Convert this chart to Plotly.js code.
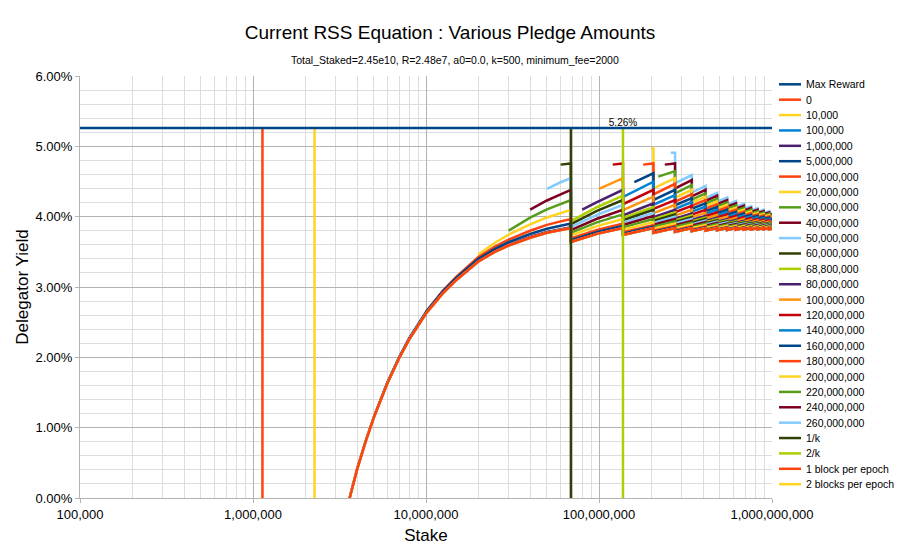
<!DOCTYPE html>
<html>
<head>
<meta charset="utf-8">
<script src="https://cdn.plot.ly/plotly-3.0.1.min.js"></script>
<style>
html,body{margin:0;padding:0;background:#fff;}
#chart{width:900px;height:556px;}
</style>
</head>
<body>
<div id="chart"></div>
<script>
// ---------- axis / reference values ----------
const TICK_VALS = [1e5, 1e6, 1e7, 1e8, 1e9];
const TICK_TEXT = ['100,000', '1,000,000', '10,000,000', '100,000,000', '1,000,000,000'];
const MAX_REWARD = 5.26;
const MAX_LABEL = '5.26%';
const ONE_K = 6.88e7;
const TWO_K = 1.376e8;
const ONE_BLOCK = 1.134e6;
const TWO_BLOCKS = 2.268e6;

// stake sample points: first (unsaturated) segment, then the saw-tooth segments
const T1X = [3.62e6, 4e6, 4.5e6, 5e6, 6e6, 7e6, 8e6, 1e7, 1.25e7, 1.5e7, 2e7, 2.5e7, 3e7, 4e7, 5e7, 6e7, 6.88e7];
const TX = [6.88e7, 9.73e7, 1.376e8, 1.376e8, 1.685e8, 2.064e8, 2.064e8, 2.383e8, 2.752e8, 2.752e8,
  3.44e8, 3.44e8, 4.128e8, 4.128e8, 4.816e8, 4.816e8, 5.504e8, 5.504e8, 6.192e8, 6.192e8,
  6.88e8, 6.88e8, 7.568e8, 7.568e8, 8.256e8, 8.256e8, 8.944e8, 8.944e8, 9.632e8, 9.632e8, 1e9];

// pledge series
const PLEDGES = [0, 1e4, 1e5, 1e6, 5e6, 1e7, 2e7, 3e7, 4e7, 5e7, 6e7, 6.88e7, 8e7, 1e8, 1.2e8, 1.4e8, 1.6e8, 1.8e8, 2e8, 2.2e8, 2.4e8, 2.6e8];
const PLEDGE_LABELS = ['0', '10,000', '100,000', '1,000,000', '5,000,000', '10,000,000', '20,000,000', '30,000,000',
  '40,000,000', '50,000,000', '60,000,000', '68,800,000', '80,000,000', '100,000,000', '120,000,000', '140,000,000',
  '160,000,000', '180,000,000', '200,000,000', '220,000,000', '240,000,000', '260,000,000'];
const PLEDGE_COLORS = ['#ff420e', '#ffd320', '#0084d1', '#4b1f6f', '#004586', '#ff420e', '#ffd320', '#579d1c',
  '#7e0021', '#83caff', '#314004', '#aecf00', '#4b1f6f', '#ff950e', '#c5000b', '#0084d1',
  '#004586', '#ff420e', '#ffd320', '#579d1c', '#7e0021', '#83caff'];

// delegator yield (%)
const Y_P0 = [0, 0.41, 0.82, 1.148, 1.64, 1.991, 2.255, 2.624, 2.91, 3.10, 3.36, 3.50, 3.59, 3.70, 3.77, 3.81, 3.837,
  3.64, 3.755, 3.837, 3.74, 3.789, 3.837, 3.77, 3.804, 3.837, 3.784, 3.837, 3.794, 3.837, 3.801, 3.837, 3.807, 3.837,
  3.810, 3.837, 3.813, 3.837, 3.816, 3.837, 3.818, 3.837, 3.819, 3.837, 3.821, 3.837, 3.822, 3.830];
const Y_P10K = Y_P0;   // indistinguishable from 0 at this scale
const Y_P100K = Y_P0;  // indistinguishable from 0 at this scale
const Y_P1M = [0.004, 0.414, 0.825, 1.153, 1.646, 1.997, 2.261, 2.631, 2.918, 3.108, 3.369, 3.51, 3.60, 3.711, 3.782, 3.823, 3.85,
  3.646, 3.761, 3.844, 3.744, 3.793, 3.841, 3.773, 3.807, 3.840, 3.787, 3.840, 3.796, 3.839, 3.803, 3.839, 3.809, 3.839,
  3.811, 3.838, 3.814, 3.838, 3.817, 3.838, 3.819, 3.838, 3.820, 3.838, 3.822, 3.838, 3.823, 3.831];
const Y_P5M = [1.154, 1.65, 2.005, 2.272, 2.646, 2.937, 3.131, 3.397, 3.542, 3.636, 3.753, 3.828, 3.872, 3.902,
  3.665, 3.784, 3.869, 3.759, 3.81, 3.859, 3.785, 3.82, 3.853, 3.796, 3.85, 3.804, 3.848, 3.81, 3.846, 3.815, 3.845,
  3.817, 3.844, 3.819, 3.844, 3.822, 3.843, 3.823, 3.842, 3.824, 3.842, 3.825, 3.841, 3.826, 3.834];
const Y_P10M = [2.649, 2.947, 3.147, 3.423, 3.575, 3.675, 3.80, 3.883, 3.933, 3.967,
  3.689, 3.812, 3.902, 3.778, 3.83, 3.88, 3.80, 3.835, 3.87, 3.808, 3.863, 3.815, 3.859, 3.819, 3.856, 3.823, 3.853,
  3.824, 3.851, 3.826, 3.85, 3.828, 3.849, 3.829, 3.848, 3.829, 3.847, 3.830, 3.846, 3.831, 3.839];
const Y_P20M = [3.46, 3.629, 3.743, 3.89, 3.989, 4.052, 4.097,
  3.732, 3.866, 3.967, 3.814, 3.869, 3.924, 3.829, 3.866, 3.902, 3.832, 3.889, 3.835, 3.88, 3.836, 3.874, 3.838, 3.870,
  3.838, 3.866, 3.838, 3.863, 3.839, 3.861, 3.839, 3.859, 3.839, 3.857, 3.839, 3.856, 3.839, 3.847];
const Y_P30M = [3.80, 3.986, 4.103, 4.181, 4.237,
  3.772, 3.918, 4.032, 3.848, 3.908, 3.967, 3.856, 3.896, 3.934, 3.856, 3.915, 3.855, 3.902, 3.854, 3.893, 3.854, 3.886,
  3.852, 3.880, 3.851, 3.876, 3.851, 3.873, 3.850, 3.870, 3.848, 3.867, 3.848, 3.865, 3.848, 3.856];
const Y_P40M = [4.10, 4.23, 4.318, 4.382,
  3.81, 3.97, 4.097, 3.881, 3.946, 4.01, 3.884, 3.926, 3.967, 3.879, 3.941, 3.875, 3.924, 3.871, 3.911, 3.869, 3.902,
  3.866, 3.895, 3.863, 3.889, 3.862, 3.884, 3.86, 3.88, 3.858, 3.877, 3.857, 3.874, 3.856, 3.864];
const Y_P50M = [4.395, 4.489, 4.547,
  3.851, 4.025, 4.167, 3.915, 3.985, 4.054, 3.912, 3.956, 4.0, 3.902, 3.967, 3.894, 3.945, 3.888, 3.93, 3.884, 3.918,
  3.879, 3.909, 3.876, 3.902, 3.873, 3.896, 3.871, 3.891, 3.868, 3.887, 3.866, 3.883, 3.864, 3.873];
const Y_P60M = [4.74, 4.757,
  3.894, 4.082, 4.237, 3.948, 4.023, 4.097, 3.939, 3.986, 4.032, 3.925, 3.993, 3.914, 3.967, 3.906, 3.948, 3.899, 3.934,
  3.893, 3.924, 3.888, 3.915, 3.885, 3.908, 3.881, 3.902, 3.877, 3.897, 3.875, 3.893, 3.873, 3.882];
const Y_P68M = [3.936, 4.134, 4.299, 3.979, 4.059, 4.138, 3.963, 4.012, 4.061, 3.945, 4.016, 3.931, 3.986, 3.921, 3.965,
  3.913, 3.949, 3.905, 3.936, 3.899, 3.926, 3.895, 3.918, 3.89, 3.912, 3.886, 3.906, 3.883, 3.901, 3.88, 3.889];
const Y_P80M = [4.10, 4.207, 4.382, 4.018, 4.105, 4.19, 3.993, 4.045, 4.097, 3.97, 4.045, 3.953, 4.01, 3.94, 3.986,
  3.93, 3.967, 3.92, 3.953, 3.913, 3.941, 3.907, 3.932, 3.902, 3.924, 3.897, 3.917, 3.893, 3.911, 3.89, 3.899];
const Y_P100M = [4.395, 4.547, 4.092, 4.189, 4.284, 4.051, 4.109, 4.167, 4.015, 4.097, 3.992, 4.054, 3.974, 4.023,
  3.96, 4.0, 3.947, 3.981, 3.937, 3.967, 3.93, 3.955, 3.923, 3.945, 3.916, 3.937, 3.911, 3.93, 3.907, 3.916];
const Y_P120M = [4.74, 4.757, 4.177, 4.28, 4.382, 4.109, 4.174, 4.237, 4.064, 4.153, 4.03, 4.097, 4.007, 4.06,
  3.99, 4.032, 3.974, 4.01, 3.962, 3.993, 3.952, 3.979, 3.943, 3.967, 3.935, 3.957, 3.929, 3.948, 3.923, 3.933];
const Y_P140M = [4.29, 4.389, 4.497, 4.17, 4.239, 4.307, 4.112, 4.209, 4.072, 4.144, 4.041, 4.097, 4.02, 4.065,
  4.001, 4.039, 3.986, 4.019, 3.974, 4.003, 3.964, 3.989, 3.954, 3.977, 3.947, 3.967, 3.94, 3.95];
const Y_P160M = [4.49, 4.514, 4.617, 4.238, 4.311, 4.382, 4.162, 4.265, 4.114, 4.19, 4.077, 4.137, 4.05, 4.097,
  4.028, 4.068, 4.011, 4.045, 3.997, 4.026, 3.984, 4.01, 3.973, 3.997, 3.965, 3.986, 3.957, 3.967];
const Y_P180M = [4.74, 4.757, 4.316, 4.392, 4.467, 4.213, 4.321, 4.156, 4.237, 4.114, 4.177, 4.082, 4.132, 4.055,
  4.097, 4.035, 4.071, 4.019, 4.05, 4.005, 4.032, 3.992, 4.017, 3.982, 4.004, 3.973, 3.984];
const Y_P200M = [4.97, 4.97, 4.403, 4.476, 4.547, 4.269, 4.382, 4.198, 4.284, 4.15, 4.217, 4.114, 4.167, 4.084,
  4.128, 4.059, 4.097, 4.041, 4.073, 4.026, 4.054, 4.012, 4.037, 4.0, 4.023, 3.99, 4.0];
const Y_P220M = [4.57, 4.60, 4.647, 4.333, 4.45, 4.242, 4.331, 4.187, 4.257, 4.146, 4.202, 4.112, 4.159, 4.086,
  4.125, 4.064, 4.097, 4.046, 4.075, 4.031, 4.057, 4.018, 4.041, 4.007, 4.018];
const Y_P240M = [4.74, 4.757, 4.401, 4.521, 4.29, 4.382, 4.224, 4.297, 4.179, 4.237, 4.142, 4.19, 4.112, 4.153,
  4.087, 4.122, 4.067, 4.097, 4.05, 4.077, 4.036, 4.06, 4.023, 4.035];
const Y_P260M = [4.91, 4.91, 4.476, 4.592, 4.342, 4.437, 4.262, 4.337, 4.212, 4.272, 4.171, 4.222, 4.138, 4.181,
  4.112, 4.148, 4.088, 4.12, 4.069, 4.097, 4.054, 4.078, 4.04, 4.05];

const PLEDGE_Y = [Y_P0, Y_P10K, Y_P100K, Y_P1M, Y_P5M, Y_P10M, Y_P20M, Y_P30M, Y_P40M, Y_P50M, Y_P60M, Y_P68M,
  Y_P80M, Y_P100M, Y_P120M, Y_P140M, Y_P160M, Y_P180M, Y_P200M, Y_P220M, Y_P240M, Y_P260M];

// ---------- build traces ----------
const FONT = 'Liberation Sans, Arial, sans-serif';
const LINE_W = 2.5;

const curveTraces = PLEDGES.map((p, i) => {
  const start = Math.max(p, T1X[0]);
  const x = [start].concat(T1X.filter(v => v > start), TX.filter(v => v > start));
  if (x.length !== PLEDGE_Y[i].length) console.error('length mismatch', PLEDGE_LABELS[i], x.length, PLEDGE_Y[i].length);
  return {
    type: 'scatter', mode: 'lines', name: PLEDGE_LABELS[i], x: x, y: PLEDGE_Y[i],
    line: {color: PLEDGE_COLORS[i], width: LINE_W}, hoverinfo: 'skip', showlegend: false
  };
});
// first series drawn on top, as in the reference
curveTraces.reverse();

const VLINES = [
  {name: '1/k', x: ONE_K, color: '#314004'},
  {name: '2/k', x: TWO_K, color: '#aecf00'},
  {name: '1 block per epoch', x: ONE_BLOCK, color: '#ff420e'},
  {name: '2 blocks per epoch', x: TWO_BLOCKS, color: '#ffd320'}
];
const vTraces = VLINES.map(v => ({
  type: 'scatter', mode: 'lines', name: v.name, x: [v.x, v.x], y: [0, MAX_REWARD],
  line: {color: v.color, width: LINE_W}, hoverinfo: 'skip', showlegend: false
}));

const maxTrace = {
  type: 'scatter', mode: 'lines+text', name: 'Max Reward',
  x: [1e5, TWO_K, 1e9], y: [MAX_REWARD, MAX_REWARD, MAX_REWARD],
  text: ['', MAX_LABEL, ''], textposition: 'top center',
  textfont: {family: FONT, size: 10, color: '#000'},
  line: {color: '#004586', width: LINE_W}, hoverinfo: 'skip', showlegend: false
};

const data = curveTraces.concat(vTraces, [maxTrace]);

// ---------- custom legend (matches the compact spacing of the reference) ----------
const LEGEND_NAMES = ['Max Reward'].concat(PLEDGE_LABELS, VLINES.map(v => v.name));
const LEGEND_COLORS = ['#004586'].concat(PLEDGE_COLORS, VLINES.map(v => v.color));

const PLOT_L = 80, PLOT_R = 772, PLOT_T = 76, PLOT_B = 498;
const pxX = px => (px - PLOT_L) / (PLOT_R - PLOT_L);
const pxY = py => (PLOT_B - py) / (PLOT_B - PLOT_T);

const shapes = [];
const annotations = [];
LEGEND_NAMES.forEach((nm, i) => {
  const py = 84.3 + 15.38 * i;
  shapes.push({type: 'line', xref: 'paper', yref: 'paper', x0: pxX(779), x1: pxX(801), y0: pxY(py), y1: pxY(py),
    line: {color: LEGEND_COLORS[i], width: 2.5}});
  annotations.push({xref: 'paper', yref: 'paper', x: pxX(804), y: pxY(py), xanchor: 'left', yanchor: 'middle',
    text: nm, showarrow: false, font: {family: FONT, size: 10.5, color: '#000'}});
});
annotations.push({xref: 'paper', yref: 'paper', x: pxX(455), y: pxY(60), xanchor: 'center', yanchor: 'middle',
  text: 'Total_Staked=2.45e10, R=2.48e7, a0=0.0, k=500, minimum_fee=2000', showarrow: false,
  font: {family: FONT, size: 10.5, color: '#000'}});

const layout = {
  width: 900, height: 556,
  margin: {l: PLOT_L, r: 900 - PLOT_R, t: PLOT_T, b: 556 - PLOT_B, pad: 0},
  paper_bgcolor: '#ffffff', plot_bgcolor: '#ffffff',
  font: {family: FONT, color: '#000'},
  showlegend: false,
  title: {text: 'Current RSS Equation : Various Pledge Amounts', font: {family: FONT, size: 19, color: '#000'},
    x: 0.5, xref: 'container', xanchor: 'center', y: 1 - 32 / 556, yref: 'container', yanchor: 'middle'},
  xaxis: {
    type: 'log', range: [5, 9], tickmode: 'array', tickvals: TICK_VALS, ticktext: TICK_TEXT,
    showgrid: true, gridcolor: '#b3b3b3', gridwidth: 1,
    minor: {dtick: 'D1', showgrid: true, gridcolor: '#dddddd', gridwidth: 1, ticks: ''},
    ticks: 'outside', ticklen: 4, tickcolor: '#b3b3b3', showline: true, linecolor: '#b3b3b3', linewidth: 1,
    zeroline: false, tickfont: {family: FONT, size: 13, color: '#000'},
    title: {text: 'Stake', font: {family: FONT, size: 17, color: '#000'}, standoff: 8}
  },
  yaxis: {
    range: [0, 6], tickmode: 'linear', tick0: 0, dtick: 1, tickformat: '.2f', ticksuffix: '%',
    showgrid: true, gridcolor: '#b3b3b3', gridwidth: 1,
    minor: {dtick: 0.2, showgrid: true, gridcolor: '#dddddd', gridwidth: 1, ticks: ''},
    ticks: 'outside', ticklen: 4, tickcolor: '#b3b3b3', showline: true, linecolor: '#b3b3b3', linewidth: 1,
    zeroline: false, tickfont: {family: FONT, size: 13, color: '#000'},
    title: {text: 'Delegator Yield', font: {family: FONT, size: 17, color: '#000'}, standoff: 2}
  },
  shapes: shapes,
  annotations: annotations
};

Plotly.newPlot('chart', data, layout, {displayModeBar: false, staticPlot: true});
</script>
</body>
</html>
